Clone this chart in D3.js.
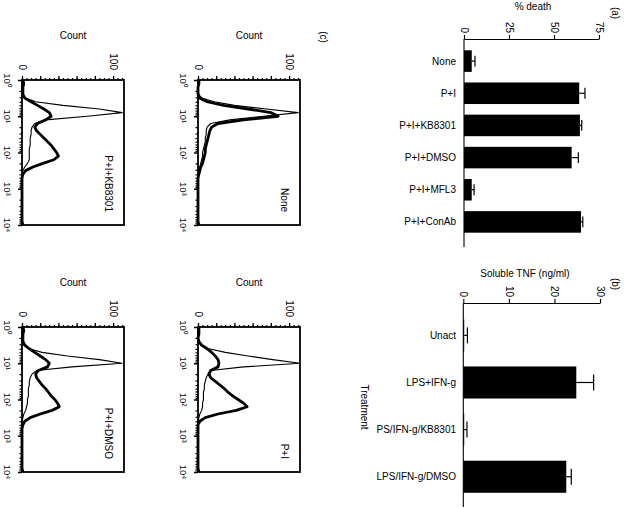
<!DOCTYPE html>
<html>
<head>
<meta charset="utf-8">
<script src="https://cdn.jsdelivr.net/npm/d3@7"></script>
<style>
  html, body { margin: 0; padding: 0; background: #fff; }
  svg { display: block; font-family: "Liberation Sans", Arial, Helvetica, sans-serif; }
</style>
</head>
<body>
<svg id="chart" width="624" height="508"></svg>
<script>
// ---------- Panel (a): % death ----------
const deathCategories = ["None", "P+I", "P+I+KB8301", "P+I+DMSO", "P+I+MFL3", "P+I+ConAb"];
const deathValues = [4.3, 64, 64.4, 59.8, 4.3, 65];
const deathErrors = [1.8, 3.2, 1.0, 3.7, 1.3, 1.0];
const deathTicks = [0, 25, 50, 75];

// ---------- Panel (b): soluble TNF ----------
const tnfCategories = ["Unact", "LPS+IFN-g", "PS/IFN-g/KB8301", "LPS/IFN-g/DMSO"];
const tnfValues = [0.2, 24.8, 0.2, 22.6];
const tnfErrors = [0.7, 3.8, 0.6, 1.1];
const tnfTicks = [0, 10, 20, 30];

// ---------- Panel (c): flow histograms ----------
const histTitles = ["P+I+KB8301", "None", "P+I+DMSO", "P+I"];
const histLogBins = [0.0, 0.1, 0.2, 0.3, 0.4, 0.5, 0.6, 0.7, 0.8, 0.9,
                     1.0, 1.1, 1.2, 1.3, 1.4, 1.5, 1.6, 1.7, 1.8, 1.9,
                     2.0, 2.1, 2.2, 2.3, 2.4, 2.5, 2.6, 2.7, 2.8, 2.9,
                     3.0, 3.1, 3.2, 3.3, 3.4, 3.5, 3.6, 3.7, 3.8, 3.9, 4.0];
const kb8301Thin  = [0,0,0,0,1,4,15,45,85,110, 72,26,14,11,10,10,9,9,9,8, 8,8,8,6,3,1,0,0,0,0, 0,0,0,0,0,0,0,0,0,0,0];
const kb8301Thick = [1,2,1,1,1,3,10,17,24,30, 32,26,17,14,16,20,24,28,32,35, 38,40,35,23,12,4,1,0,0,0, 0,0,0,0,0,0,0,0,0,0,1];
const noneThin    = [0,0,0,0,1,4,18,40,75,110, 72,35,14,10,9,9,8,8,7,6, 5,5,4,3,2,1,0,0,0,0, 0,0,0,0,0,0,0,0,0,0,0];
const noneThick   = [1,1,0,0,0,2,10,28,55,80, 88,50,22,15,13,12,11,10,9,8, 8,7,6,5,3,2,1,0,0,0, 0,0,0,0,0,0,0,0,0,0,1];
const dmsoThin    = [0,0,0,0,0,2,8,22,50,85, 110,55,16,11,9,8,8,7,7,7, 6,6,5,4,2,1,0,0,0,0, 0,0,0,0,0,0,0,0,0,0,0];
const dmsoThick   = [1,2,1,1,1,3,8,14,20,26, 30,28,18,15,16,19,22,26,29,32, 36,39,41,33,20,9,3,1,0,0, 0,0,0,0,0,0,0,0,0,0,1];
const piThin      = [0,0,0,0,0,3,12,30,55,82, 112,50,14,11,9,8,7,7,6,6, 6,5,5,4,2,1,0,0,0,0, 0,0,0,0,0,0,0,0,0,0,0];
const piThick     = [1,1,1,0,1,4,10,15,19,22, 23,22,14,12,14,19,24,29,33,38, 44,50,54,42,22,8,2,0,0,0, 0,0,0,0,0,0,0,0,0,0,1];
const countTicks = [0, 100];
const logTicks = [1, 10, 100, 1000, 10000];

const histSeries = [
  { title: histTitles[0], thin: kb8301Thin, thick: kb8301Thick },
  { title: histTitles[1], thin: noneThin, thick: noneThick },
  { title: histTitles[2], thin: dmsoThin, thick: dmsoThick },
  { title: histTitles[3], thin: piThin, thick: piThick }
];

const svg = d3.select("#chart");
const FS = 10;

function rotLabel(g, x, y, txt, anchor, size) {
  return g.append("text")
    .attr("transform", `translate(${x},${y}) rotate(90)`)
    .attr("text-anchor", anchor)
    .attr("dy", "0.35em")
    .attr("font-size", size || FS)
    .attr("fill", "#000")
    .text(txt);
}

function barPanel(cfg) {
  const g = svg.append("g");
  const x = d3.scaleLinear().domain(cfg.domain).range(cfg.xRange);
  const y = d3.scaleBand().domain(cfg.cats).range(cfg.yRange)
    .paddingInner(cfg.pad).paddingOuter(cfg.pad / 2);

  const ax = g.append("g").attr("transform", `translate(0,${cfg.axisY})`)
    .call(d3.axisTop(x).tickValues(cfg.ticks).tickSize(4).tickSizeOuter(0));
  ax.select(".domain").attr("stroke-width", 1.1);
  ax.selectAll(".tick line").attr("stroke-width", 1.1);
  ax.selectAll(".tick text")
    .attr("transform", "rotate(90)")
    .attr("x", -6).attr("y", 0).attr("dy", "0.35em")
    .style("text-anchor", "end")
    .attr("font-size", FS).attr("font-family", null);

  g.append("line")
    .attr("x1", x(0)).attr("x2", x(0))
    .attr("y1", cfg.axisY).attr("y2", cfg.axisBottom)
    .attr("stroke", "#000").attr("stroke-width", 1.1);

  const rows = cfg.cats.map((c, i) => ({ c, v: cfg.vals[i], e: cfg.errs[i] }));

  g.selectAll("rect.bar").data(rows).join("rect")
    .attr("class", "bar")
    .attr("x", x(0))
    .attr("y", d => y(d.c))
    .attr("width", d => x(d.v) - x(0))
    .attr("height", y.bandwidth())
    .attr("fill", "#000");

  const cap = y.bandwidth() * 0.5;
  g.selectAll("line.err").data(rows).join("line")
    .attr("class", "err")
    .attr("x1", d => x(d.v)).attr("x2", d => x(d.v + d.e))
    .attr("y1", d => y(d.c) + y.bandwidth() / 2)
    .attr("y2", d => y(d.c) + y.bandwidth() / 2)
    .attr("stroke", "#000").attr("stroke-width", 1.2);
  g.selectAll("line.cap").data(rows).join("line")
    .attr("class", "cap")
    .attr("x1", d => x(d.v + d.e)).attr("x2", d => x(d.v + d.e))
    .attr("y1", d => y(d.c) + y.bandwidth() / 2 - cap / 2)
    .attr("y2", d => y(d.c) + y.bandwidth() / 2 + cap / 2)
    .attr("stroke", "#000").attr("stroke-width", 1.2);

  g.selectAll("text.cat").data(rows).join("text")
    .attr("class", "cat")
    .attr("x", cfg.labelX)
    .attr("y", d => y(d.c) + y.bandwidth() / 2)
    .attr("dy", "0.35em")
    .attr("text-anchor", "end")
    .attr("font-size", FS)
    .text(d => d.c);

  g.append("text")
    .attr("x", cfg.titleX).attr("y", cfg.titleY)
    .attr("text-anchor", "middle").attr("font-size", FS)
    .text(cfg.title);
  rotLabel(g, cfg.tagX, cfg.tagY, cfg.tag, "middle", FS);
  return g;
}

barPanel({
  cats: deathCategories, vals: deathValues, errs: deathErrors, ticks: deathTicks,
  domain: [0, 75], xRange: [464, 599], yRange: [45, 238], pad: 0.33,
  axisY: 39, axisBottom: 247, labelX: 456,
  title: "% death", titleX: 533, titleY: 10, tag: "(a)", tagX: 615, tagY: 13
});

barPanel({
  cats: tnfCategories, vals: tnfValues, errs: tnfErrors, ticks: tnfTicks,
  domain: [0, 30], xRange: [463.3, 600], yRange: [311.8, 500.3], pad: 0.32,
  axisY: 303, axisBottom: 507, labelX: 456,
  title: "Soluble TNF (ng/ml)", titleX: 525, titleY: 277, tag: "(b)", tagX: 615, tagY: 284
});

rotLabel(svg, 364, 407, "Treatment", "middle", FS);
rotLabel(svg, 323, 37, "(c)", "middle", FS);

// ---------- Histograms ----------
const frames = [
  { x: 22, y: 80 }, { x: 198, y: 80 }, { x: 22, y: 327 }, { x: 198, y: 327 }
];
const FW = 102, FH = 145;
const supers = ["\u2070", "\u00B9", "\u00B2", "\u00B3", "\u2074"];

histSeries.forEach((s, i) => {
  const f = frames[i];
  const g = svg.append("g");
  const x = d3.scaleLinear().domain([0, 112]).range([f.x, f.x + FW]);
  const y = d3.scaleLog().domain([1, 10000]).range([f.y, f.y + FH]);

  const minor = [];
  for (let v = 0; v <= 110; v += 5) minor.push(v);
  g.append("g").attr("transform", `translate(0,${f.y})`)
    .call(d3.axisTop(x).tickValues(minor).tickSize(2).tickFormat("").tickSizeOuter(0))
    .call(a => a.select(".domain").remove())
    .selectAll("line").attr("stroke-width", 1.2);
  const major = g.append("g").attr("transform", `translate(0,${f.y})`)
    .call(d3.axisTop(x).tickValues([0, 20, 40, 60, 80, 100]).tickSize(4)
      .tickFormat(d => countTicks.includes(d) ? d : "").tickSizeOuter(0));
  major.select(".domain").remove();
  major.selectAll("line").attr("stroke-width", 1.3);
  major.selectAll(".tick text")
    .attr("transform", "rotate(90)")
    .attr("x", -10).attr("y", 0).attr("dy", "0.35em")
    .style("text-anchor", "end")
    .attr("font-size", FS).attr("font-family", null);

  const minorLog = [];
  [1, 10, 100, 1000].forEach(d => { for (let k = 2; k <= 9; k++) minorLog.push(d * k); });
  g.append("g").attr("transform", `translate(${f.x},0)`)
    .call(d3.axisLeft(y).tickValues(minorLog).tickSize(2.5).tickFormat("").tickSizeOuter(0))
    .call(a => a.select(".domain").remove())
    .selectAll("line").attr("stroke-width", 1.2);
  const la = g.append("g").attr("transform", `translate(${f.x},0)`)
    .call(d3.axisLeft(y).tickValues(logTicks).tickSize(4).tickFormat("").tickSizeOuter(0));
  la.select(".domain").remove();
  la.selectAll("line").attr("stroke-width", 1.5);
  logTicks.forEach((t, k) => {
    rotLabel(g, f.x - 15, y(t), "10" + supers[k], "middle", 9.5);
  });

  const pts = arr => arr.map((c, k) => [x(c), y(Math.pow(10, histLogBins[k]))]);
  const line = d3.line();
  g.append("path").attr("d", line(pts(s.thin)))
    .attr("fill", "none").attr("stroke", "#000").attr("stroke-width", 1.1)
    .attr("stroke-linejoin", "round");
  g.append("path").attr("d", line(pts(s.thick)))
    .attr("fill", "none").attr("stroke", "#000").attr("stroke-width", 2.8)
    .attr("stroke-linejoin", "round");

  g.append("rect").attr("x", f.x).attr("y", f.y).attr("width", FW).attr("height", FH)
    .attr("fill", "none").attr("stroke", "#000").attr("stroke-width", 1.8);

  g.append("text").attr("x", f.x + FW / 2).attr("y", f.y - 41)
    .attr("text-anchor", "middle").attr("font-size", FS).text("Count");
  rotLabel(g, f.x + FW - 16, f.y + FH - 13, s.title, "end", FS);
});
</script>
</body>
</html>
